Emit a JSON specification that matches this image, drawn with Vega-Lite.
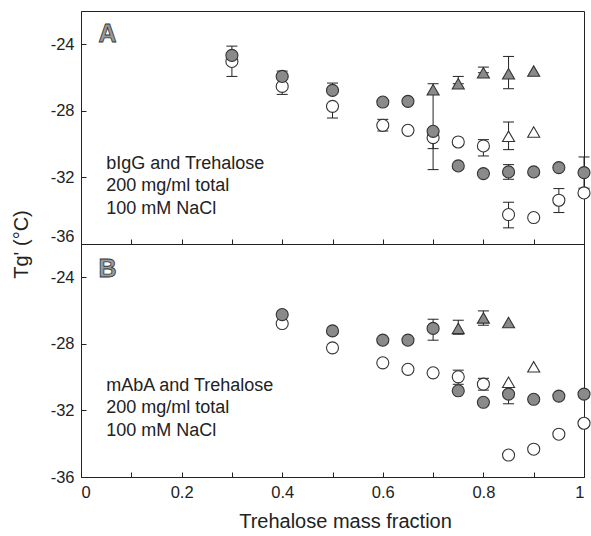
{
  "$schema": "https://vega.github.io/schema/vega-lite/v6.json",
  "padding": {"left": 10, "top": 10, "right": 4, "bottom": 4},
  "background": "white",
  "bounds": "flush",
  "spacing": 0,
  "config": {
    "view": {"stroke": "#222", "strokeWidth": 1},
    "font": "Liberation Sans",
    "axis": {
      "domainColor": "#222",
      "tickColor": "#222",
      "labelColor": "#222",
      "titleColor": "#222",
      "labelFont": "Liberation Sans",
      "titleFont": "Liberation Sans",
      "labelFontSize": 16.5,
      "titleFontSize": 20,
      "titleFontWeight": "normal",
      "grid": false,
      "tickSize": -5,
      "labelPadding": 12
    }
  },
  "datasets": {
    "pts": [
      {"panel": "A", "s": "oc", "x": 0.3, "y": -25.03, "lo": -25.93, "hi": -25.03},
      {"panel": "A", "s": "fc", "x": 0.3, "y": -24.67, "lo": -24.67, "hi": -24.11},
      {"panel": "A", "s": "oc", "x": 0.4, "y": -26.53, "lo": -27.01, "hi": -26.53},
      {"panel": "A", "s": "fc", "x": 0.4, "y": -25.93, "lo": -25.93, "hi": -25.61},
      {"panel": "A", "s": "oc", "x": 0.5, "y": -27.73, "lo": -28.43, "hi": -27.73},
      {"panel": "A", "s": "fc", "x": 0.5, "y": -26.77, "lo": -26.77, "hi": -26.33},
      {"panel": "A", "s": "oc", "x": 0.6, "y": -28.87, "lo": -29.21, "hi": -28.51},
      {"panel": "A", "s": "fc", "x": 0.6, "y": -27.47},
      {"panel": "A", "s": "oc", "x": 0.65, "y": -29.17},
      {"panel": "A", "s": "fc", "x": 0.65, "y": -27.43},
      {"panel": "A", "s": "oc", "x": 0.7, "y": -29.61, "lo": -31.53, "hi": -29.61},
      {"panel": "A", "s": "fc", "x": 0.7, "y": -29.23, "lo": -30.27, "hi": -29.23},
      {"panel": "A", "s": "ft", "x": 0.7, "y": -26.73, "lo": -29.2, "hi": -26.37},
      {"panel": "A", "s": "oc", "x": 0.75, "y": -29.87},
      {"panel": "A", "s": "fc", "x": 0.75, "y": -31.31},
      {"panel": "A", "s": "ft", "x": 0.75, "y": -26.37, "lo": -26.37, "hi": -25.93},
      {"panel": "A", "s": "oc", "x": 0.8, "y": -30.11, "lo": -30.71, "hi": -29.73},
      {"panel": "A", "s": "fc", "x": 0.8, "y": -31.77},
      {"panel": "A", "s": "ft", "x": 0.8, "y": -25.71, "lo": -25.71, "hi": -25.37},
      {"panel": "A", "s": "oc", "x": 0.85, "y": -34.23, "lo": -35.03, "hi": -33.49},
      {"panel": "A", "s": "fc", "x": 0.85, "y": -31.67, "lo": -32.11, "hi": -31.23},
      {"panel": "A", "s": "ot", "x": 0.85, "y": -29.53, "lo": -30.33, "hi": -28.67},
      {"panel": "A", "s": "ft", "x": 0.85, "y": -25.77, "lo": -26.67, "hi": -24.73},
      {"panel": "A", "s": "oc", "x": 0.9, "y": -34.41},
      {"panel": "A", "s": "fc", "x": 0.9, "y": -31.67},
      {"panel": "A", "s": "ot", "x": 0.9, "y": -29.27},
      {"panel": "A", "s": "ft", "x": 0.9, "y": -25.61},
      {"panel": "A", "s": "oc", "x": 0.95, "y": -33.37, "lo": -34.11, "hi": -32.67},
      {"panel": "A", "s": "fc", "x": 0.95, "y": -31.41},
      {"panel": "A", "s": "oc", "x": 1.0, "y": -32.93},
      {"panel": "A", "s": "fc", "x": 1.0, "y": -31.71, "lo": -32.65, "hi": -30.77},
      {"panel": "B", "s": "oc", "x": 0.4, "y": -26.78},
      {"panel": "B", "s": "fc", "x": 0.4, "y": -26.24},
      {"panel": "B", "s": "oc", "x": 0.5, "y": -28.24},
      {"panel": "B", "s": "fc", "x": 0.5, "y": -27.22},
      {"panel": "B", "s": "oc", "x": 0.6, "y": -29.14},
      {"panel": "B", "s": "fc", "x": 0.6, "y": -27.78},
      {"panel": "B", "s": "oc", "x": 0.65, "y": -29.53},
      {"panel": "B", "s": "fc", "x": 0.65, "y": -27.78},
      {"panel": "B", "s": "oc", "x": 0.7, "y": -29.74},
      {"panel": "B", "s": "fc", "x": 0.7, "y": -27.07, "lo": -27.78, "hi": -26.52},
      {"panel": "B", "s": "oc", "x": 0.75, "y": -29.98, "lo": -30.43, "hi": -29.58},
      {"panel": "B", "s": "fc", "x": 0.75, "y": -30.82},
      {"panel": "B", "s": "ft", "x": 0.75, "y": -27.07, "lo": -27.42, "hi": -26.58},
      {"panel": "B", "s": "oc", "x": 0.8, "y": -30.42, "lo": -30.78, "hi": -30.07},
      {"panel": "B", "s": "fc", "x": 0.8, "y": -31.51},
      {"panel": "B", "s": "ft", "x": 0.8, "y": -26.44, "lo": -26.88, "hi": -26.02},
      {"panel": "B", "s": "oc", "x": 0.85, "y": -34.68},
      {"panel": "B", "s": "fc", "x": 0.85, "y": -31.02, "lo": -31.6, "hi": -30.6},
      {"panel": "B", "s": "ot", "x": 0.85, "y": -30.31},
      {"panel": "B", "s": "ft", "x": 0.85, "y": -26.72},
      {"panel": "B", "s": "oc", "x": 0.9, "y": -34.33},
      {"panel": "B", "s": "fc", "x": 0.9, "y": -31.33},
      {"panel": "B", "s": "ot", "x": 0.9, "y": -29.38},
      {"panel": "B", "s": "oc", "x": 0.95, "y": -33.43},
      {"panel": "B", "s": "fc", "x": 0.95, "y": -31.14},
      {"panel": "B", "s": "oc", "x": 1.0, "y": -32.77},
      {"panel": "B", "s": "fc", "x": 1.0, "y": -31.02}
    ]
  },
  "vconcat": [
    {
      "width": 503,
      "height": 233,
      "data": {"name": "pts"},
      "transform": [{"filter": "datum.panel == 'A'"}],
      "layer": [
        {
          "transform": [{"filter": "isValid(datum.lo)"}],
          "mark": {"type": "rule", "color": "#222", "strokeWidth": 1},
          "encoding": {
            "x": {"field": "x", "type": "quantitative", "scale": {"domain": [0, 1], "nice": false},
                  "axis": {"values": [0, 0.1, 0.2, 0.3, 0.4, 0.5, 0.6, 0.7, 0.8, 0.9, 1], "labels": false, "title": null}},
            "y": {"field": "lo", "type": "quantitative", "scale": {"domain": [-36, -22], "nice": false, "zero": false},
                  "axis": {"values": [-36, -34, -32, -30, -28, -26, -24, -22],
                           "labelExpr": "datum.value % 4 == 0 ? '' + datum.value : ''",
                           "labelFlush": true, "title": "Tg' (°C)", "titleY": 233, "titlePadding": 19}},
            "y2": {"field": "hi"}
          }
        },
        {
          "transform": [{"filter": "isValid(datum.lo)"}],
          "mark": {"type": "tick", "orient": "horizontal", "size": 11, "thickness": 1, "color": "#222", "opacity": 1},
          "encoding": {"x": {"field": "x", "type": "quantitative"}, "y": {"field": "lo", "type": "quantitative"}}
        },
        {
          "transform": [{"filter": "isValid(datum.hi)"}],
          "mark": {"type": "tick", "orient": "horizontal", "size": 11, "thickness": 1, "color": "#222", "opacity": 1},
          "encoding": {"x": {"field": "x", "type": "quantitative"}, "y": {"field": "hi", "type": "quantitative"}}
        },
        {
          "mark": {"type": "point", "filled": true, "size": 145, "stroke": "#333", "strokeWidth": 1.1, "opacity": 1},
          "encoding": {
            "x": {"field": "x", "type": "quantitative"},
            "y": {"field": "y", "type": "quantitative"},
            "shape": {"field": "s", "type": "nominal", "legend": null,
                      "scale": {"domain": ["fc", "oc", "ft", "ot"], "range": ["circle", "circle", "triangle-up", "triangle-up"]}},
            "fill": {"field": "s", "type": "nominal", "legend": null,
                     "scale": {"domain": ["fc", "oc", "ft", "ot"], "range": ["#8a8a8a", "#ffffff", "#8a8a8a", "#ffffff"]}}
          }
        },
        {
          "data": {"values": [{}]},
          "mark": {"type": "text", "text": "A", "font": "Liberation Sans", "fontSize": 25, "fontWeight": "bold",
                   "fill": "#9a9a9a", "stroke": "#333", "strokeWidth": 0.8, "align": "left", "baseline": "alphabetic"},
          "encoding": {"x": {"datum": 0.035}, "y": {"datum": -23.87}}
        },
        {
          "data": {"values": [{}]},
          "mark": {"type": "text", "text": ["bIgG and Trehalose", "200 mg/ml total", "100 mM NaCl"],
                   "font": "Liberation Sans", "fontSize": 18, "lineHeight": 22.5, "fill": "#222",
                   "align": "left", "baseline": "alphabetic"},
          "encoding": {"x": {"datum": 0.05}, "y": {"datum": -31.47}}
        }
      ]
    },
    {
      "width": 503,
      "height": 233,
      "data": {"name": "pts"},
      "transform": [{"filter": "datum.panel == 'B'"}],
      "layer": [
        {
          "transform": [{"filter": "isValid(datum.lo)"}],
          "mark": {"type": "rule", "color": "#222", "strokeWidth": 1},
          "encoding": {
            "x": {"field": "x", "type": "quantitative", "scale": {"domain": [0, 1], "nice": false},
                  "axis": {"values": [0, 0.1, 0.2, 0.3, 0.4, 0.5, 0.6, 0.7, 0.8, 0.9, 1],
                           "labelExpr": "round(datum.value * 10) % 2 == 0 ? '' + datum.value : ''",
                           "title": "Trehalose mass fraction", "titlePadding": 11, "titleX": 264}},
            "y": {"field": "lo", "type": "quantitative", "scale": {"domain": [-36, -22], "nice": false, "zero": false},
                  "axis": {"values": [-36, -34, -32, -30, -28, -26, -24, -22],
                           "labelExpr": "datum.value % 4 == 0 ? '' + datum.value : ''",
                           "title": null}},
            "y2": {"field": "hi"}
          }
        },
        {
          "transform": [{"filter": "isValid(datum.lo)"}],
          "mark": {"type": "tick", "orient": "horizontal", "size": 11, "thickness": 1, "color": "#222", "opacity": 1},
          "encoding": {"x": {"field": "x", "type": "quantitative"}, "y": {"field": "lo", "type": "quantitative"}}
        },
        {
          "transform": [{"filter": "isValid(datum.hi)"}],
          "mark": {"type": "tick", "orient": "horizontal", "size": 11, "thickness": 1, "color": "#222", "opacity": 1},
          "encoding": {"x": {"field": "x", "type": "quantitative"}, "y": {"field": "hi", "type": "quantitative"}}
        },
        {
          "mark": {"type": "point", "filled": true, "size": 145, "stroke": "#333", "strokeWidth": 1.1, "opacity": 1},
          "encoding": {
            "x": {"field": "x", "type": "quantitative"},
            "y": {"field": "y", "type": "quantitative"},
            "shape": {"field": "s", "type": "nominal", "legend": null,
                      "scale": {"domain": ["fc", "oc", "ft", "ot"], "range": ["circle", "circle", "triangle-up", "triangle-up"]}},
            "fill": {"field": "s", "type": "nominal", "legend": null,
                     "scale": {"domain": ["fc", "oc", "ft", "ot"], "range": ["#8a8a8a", "#ffffff", "#8a8a8a", "#ffffff"]}}
          }
        },
        {
          "data": {"values": [{}]},
          "mark": {"type": "text", "text": "B", "font": "Liberation Sans", "fontSize": 25, "fontWeight": "bold",
                   "fill": "#9a9a9a", "stroke": "#333", "strokeWidth": 0.8, "align": "left", "baseline": "alphabetic"},
          "encoding": {"x": {"datum": 0.035}, "y": {"datum": -24.0}}
        },
        {
          "data": {"values": [{}]},
          "mark": {"type": "text", "text": ["mAbA and Trehalose", "200 mg/ml total", "100 mM NaCl"],
                   "font": "Liberation Sans", "fontSize": 18, "lineHeight": 22.5, "fill": "#222",
                   "align": "left", "baseline": "alphabetic"},
          "encoding": {"x": {"datum": 0.05}, "y": {"datum": -30.83}}
        }
      ]
    }
  ]
}
